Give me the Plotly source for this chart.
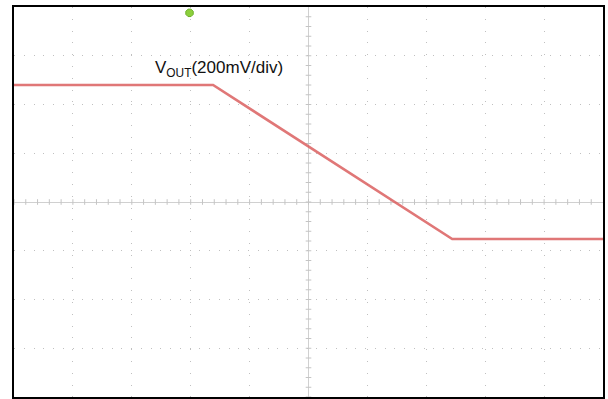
import numpy as np
import plotly.graph_objects as go

# Oscilloscope trace, in screen divisions (10 x 8 grid, centre = 0,0)
trace_x = [-5.0, -1.62, 2.44, 5.0]
trace_y = [2.40, 2.40, -0.76, -0.76]

label_text = "V<sub>OUT</sub>(200mV/div)"
label_pos = (-2.64, 2.72)
trigger_x = -2.02
trigger_y = 3.88

fig = go.Figure()

# minor ticks on centre axes
mx = np.arange(-5, 5.01, 0.2)
my = np.arange(-4, 4.01, 0.2)
fig.add_trace(go.Scatter(x=mx, y=np.zeros_like(mx), mode="markers",
                         marker=dict(symbol="line-ns-open", size=4, color="#c4c4c4",
                                     line=dict(color="#c4c4c4", width=1)),
                         hoverinfo="skip", showlegend=False))
fig.add_trace(go.Scatter(x=np.zeros_like(my), y=my, mode="markers",
                         marker=dict(symbol="line-ew-open", size=4, color="#c4c4c4",
                                     line=dict(color="#c4c4c4", width=1)),
                         hoverinfo="skip", showlegend=False))

fig.add_trace(go.Scatter(x=trace_x, y=trace_y, mode="lines",
                         line=dict(color="rgba(218,95,95,0.85)", width=2.6),
                         showlegend=False))

fig.add_trace(go.Scatter(x=[trigger_x], y=[trigger_y], mode="markers",
                         marker=dict(symbol="octagon", size=8, color="#8ccf3c",
                                     line=dict(color="#6cb02a", width=1)),
                         showlegend=False, cliponaxis=False))

fig.add_annotation(x=label_pos[0], y=label_pos[1], text=label_text,
                   showarrow=False, xanchor="left", yanchor="middle",
                   font=dict(family="Liberation Sans, Arial", size=17, color="#111"))

fig.update_xaxes(range=[-5, 5], dtick=1, showticklabels=False, ticks="",
                 showgrid=True, gridcolor="#c0c0c0", griddash="1px,10.8px",
                 zeroline=True, zerolinecolor="#d0d0d0", zerolinewidth=1,
                 showline=True, linecolor="black", linewidth=2, mirror=True)
fig.update_yaxes(range=[-4, 4], dtick=1, showticklabels=False, ticks="",
                 showgrid=True, gridcolor="#c0c0c0", griddash="1px,8.75px",
                 zeroline=True, zerolinecolor="#d0d0d0", zerolinewidth=1,
                 showline=True, linecolor="black", linewidth=2, mirror=True)

fig.update_layout(width=608, height=399,
                  margin=dict(l=14, r=5, t=7, b=2),
                  plot_bgcolor="white", paper_bgcolor="white")

fig.write_html("out.html", config={"displayModeBar": False},
               post_script="document.body.style.margin='0';document.body.style.overflow='hidden';")
